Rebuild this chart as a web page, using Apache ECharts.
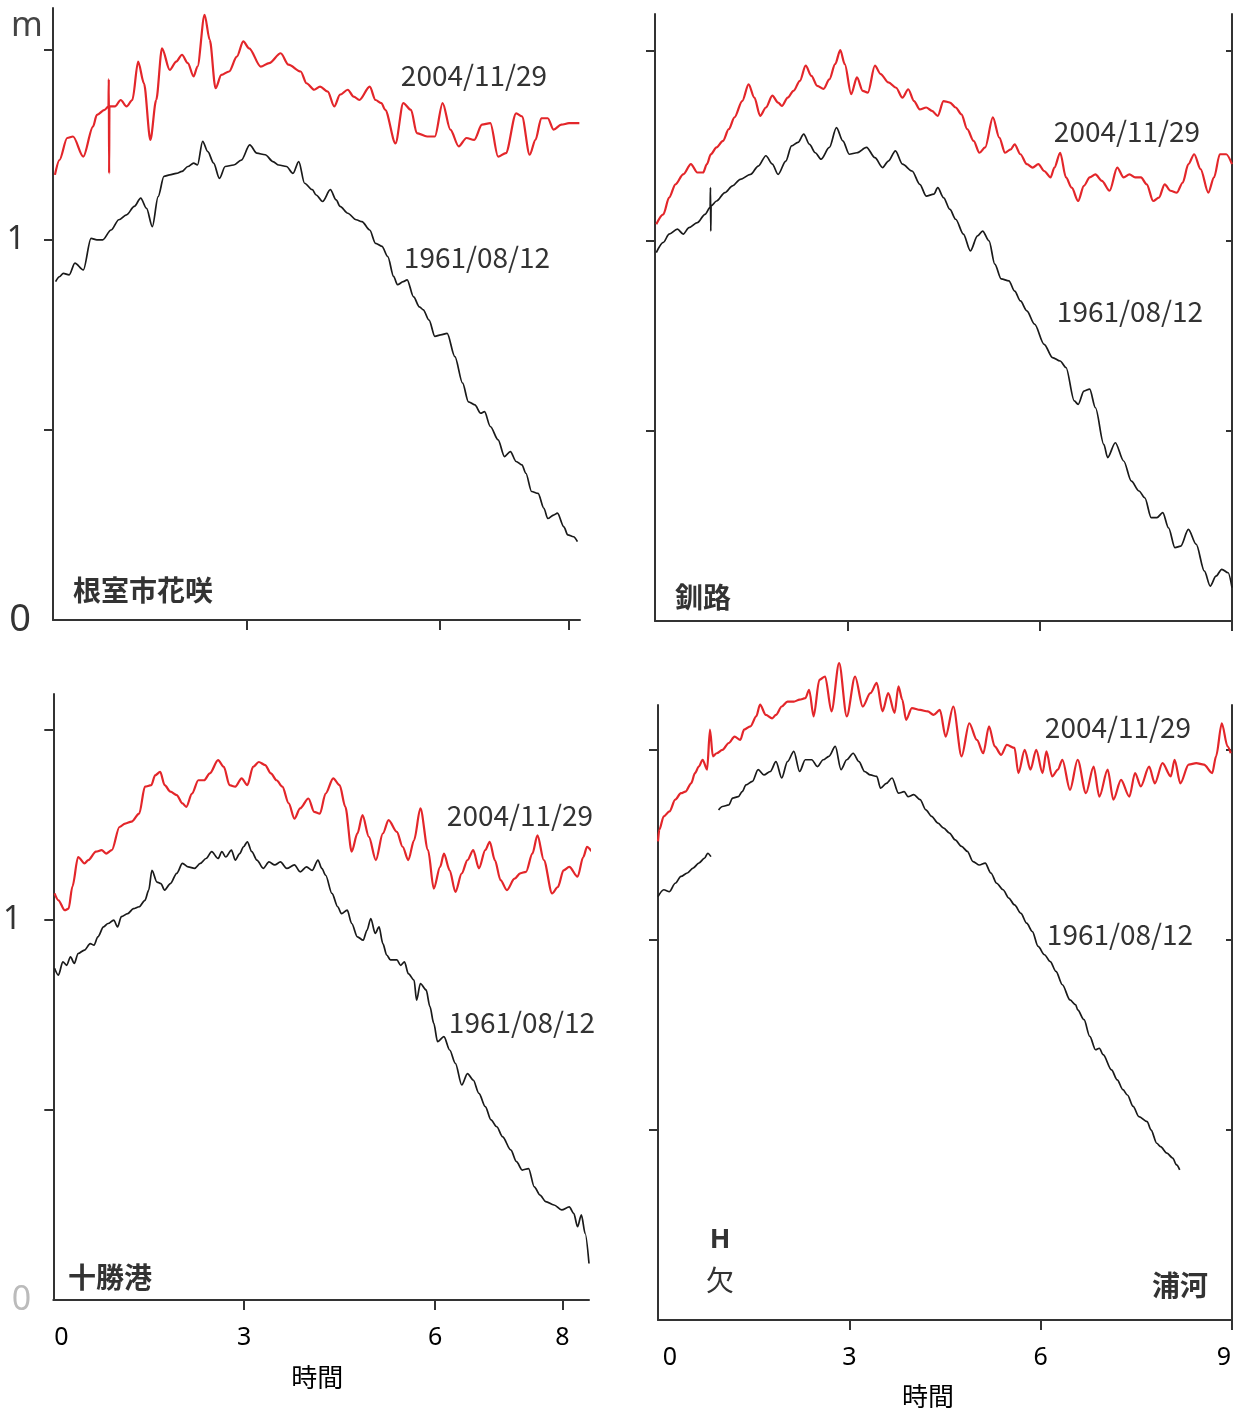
<!DOCTYPE html>
<html><head><meta charset="utf-8">
<script src="https://cdn.jsdelivr.net/npm/echarts@6/dist/echarts.min.js"></script>
<style>html,body{margin:0;padding:0;background:#fff}#c{width:1239px;height:1411px}</style>
</head><body><div id="c"></div>
<script>
// time (hours) , water level (m)
const nemuro2004 = [[0.03,1.171],[0.10,1.21],[0.22,1.268],[0.31,1.272],[0.47,1.219],[0.62,1.298],[0.68,1.329],[0.80,1.342],[0.86,1.351],[0.865,1.423],[0.87,1.175],[0.875,1.351],[0.96,1.351],[1.05,1.368],[1.14,1.351],[1.23,1.368],[1.32,1.469],[1.41,1.412],[1.51,1.263],[1.60,1.368],[1.69,1.504],[1.81,1.447],[1.91,1.469],[2.00,1.487],[2.09,1.465],[2.18,1.43],[2.24,1.456],[2.35,1.592],[2.43,1.526],[2.52,1.399],[2.61,1.434],[2.73,1.443],[2.85,1.482],[2.95,1.522],[3.04,1.504],[3.22,1.456],[3.35,1.465],[3.53,1.491],[3.65,1.461],[3.84,1.443],[3.93,1.412],[4.05,1.395],[4.14,1.403],[4.26,1.39],[4.36,1.351],[4.45,1.382],[4.57,1.395],[4.66,1.377],[4.75,1.368],[4.91,1.403],[5.00,1.368],[5.09,1.36],[5.15,1.342],[5.31,1.254],[5.43,1.36],[5.55,1.342],[5.64,1.281],[5.80,1.272],[5.92,1.272],[6.04,1.36],[6.16,1.29],[6.29,1.246],[6.41,1.268],[6.53,1.263],[6.65,1.303],[6.78,1.307],[6.90,1.219],[7.02,1.228],[7.18,1.333],[7.27,1.325],[7.39,1.224],[7.48,1.263],[7.57,1.32],[7.67,1.32],[7.76,1.29],[7.88,1.303],[8.00,1.307],[8.16,1.307]];
const nemuro1961 = [[0.04,0.890],[0.10,0.903],[0.16,0.912],[0.25,0.908],[0.34,0.939],[0.47,0.921],[0.59,1.004],[0.68,1.0],[0.77,1.0],[0.90,1.026],[1.02,1.053],[1.14,1.066],[1.26,1.088],[1.36,1.11],[1.45,1.083],[1.54,1.035],[1.63,1.114],[1.72,1.167],[1.81,1.171],[1.91,1.175],[2.00,1.18],[2.09,1.193],[2.18,1.202],[2.24,1.197],[2.32,1.259],[2.40,1.232],[2.49,1.202],[2.58,1.162],[2.67,1.193],[2.80,1.197],[2.92,1.21],[3.05,1.25],[3.16,1.228],[3.29,1.224],[3.41,1.206],[3.50,1.197],[3.62,1.193],[3.72,1.175],[3.81,1.206],[3.90,1.149],[4.02,1.132],[4.08,1.118],[4.18,1.101],[4.30,1.132],[4.39,1.105],[4.45,1.088],[4.57,1.07],[4.70,1.053],[4.79,1.048],[4.91,1.026],[5.00,0.991],[5.10,0.983],[5.19,0.956],[5.28,0.904],[5.34,0.882],[5.43,0.890],[5.49,0.895],[5.59,0.85],[5.68,0.824],[5.74,0.816],[5.83,0.789],[5.92,0.746],[6.01,0.75],[6.11,0.754],[6.23,0.693],[6.35,0.623],[6.44,0.574],[6.54,0.566],[6.63,0.544],[6.69,0.548],[6.78,0.509],[6.90,0.474],[7.00,0.43],[7.09,0.443],[7.18,0.417],[7.27,0.408],[7.33,0.386],[7.42,0.338],[7.52,0.333],[7.61,0.294],[7.67,0.267],[7.76,0.276],[7.82,0.281],[7.92,0.245],[7.98,0.224],[8.07,0.219],[8.13,0.206]];
const kushiro2004 = [[0.02,1.044],[0.13,1.07],[0.22,1.114],[0.32,1.149],[0.44,1.175],[0.56,1.202],[0.66,1.18],[0.75,1.18],[0.81,1.202],[0.87,1.228],[0.96,1.246],[1.06,1.263],[1.15,1.294],[1.24,1.325],[1.36,1.368],[1.46,1.412],[1.55,1.377],[1.64,1.329],[1.73,1.351],[1.83,1.382],[1.92,1.364],[1.98,1.355],[2.07,1.377],[2.16,1.395],[2.26,1.421],[2.35,1.461],[2.44,1.434],[2.53,1.408],[2.63,1.4],[2.72,1.425],[2.81,1.465],[2.89,1.502],[2.96,1.465],[3.06,1.386],[3.15,1.43],[3.24,1.395],[3.32,1.39],[3.43,1.461],[3.52,1.439],[3.64,1.417],[3.76,1.403],[3.86,1.377],[3.95,1.399],[4.04,1.368],[4.13,1.346],[4.23,1.351],[4.32,1.342],[4.41,1.329],[4.50,1.368],[4.60,1.364],[4.69,1.351],[4.78,1.333],[4.87,1.294],[4.97,1.263],[5.06,1.232],[5.15,1.246],[5.27,1.325],[5.37,1.272],[5.46,1.232],[5.55,1.241],[5.61,1.254],[5.70,1.228],[5.80,1.202],[5.89,1.193],[5.98,1.202],[6.07,1.184],[6.17,1.167],[6.23,1.193],[6.32,1.232],[6.41,1.167],[6.50,1.14],[6.60,1.105],[6.69,1.145],[6.78,1.167],[6.87,1.175],[6.97,1.158],[7.09,1.132],[7.21,1.193],[7.31,1.167],[7.40,1.175],[7.49,1.167],[7.58,1.167],[7.67,1.149],[7.77,1.105],[7.86,1.114],[7.95,1.149],[8.04,1.132],[8.14,1.127],[8.23,1.153],[8.32,1.202],[8.41,1.228],[8.51,1.189],[8.63,1.127],[8.72,1.167],[8.81,1.228],[8.91,1.228],[9.00,1.202]];
const kushiro1961 = [[0.02,0.969],[0.13,0.996],[0.22,1.018],[0.35,1.031],[0.44,1.018],[0.53,1.035],[0.66,1.048],[0.78,1.07],[0.86,1.088],[0.865,1.14],[0.87,1.026],[0.875,1.092],[0.96,1.105],[1.09,1.127],[1.21,1.145],[1.33,1.162],[1.49,1.175],[1.61,1.197],[1.73,1.224],[1.83,1.202],[1.92,1.175],[2.04,1.21],[2.13,1.25],[2.23,1.259],[2.32,1.281],[2.41,1.254],[2.50,1.232],[2.59,1.215],[2.72,1.246],[2.83,1.298],[2.93,1.263],[3.03,1.228],[3.15,1.232],[3.30,1.246],[3.43,1.219],[3.55,1.193],[3.64,1.21],[3.75,1.237],[3.86,1.202],[4.01,1.184],[4.13,1.149],[4.23,1.118],[4.35,1.123],[4.41,1.14],[4.50,1.114],[4.60,1.083],[4.69,1.057],[4.81,1.018],[4.92,0.974],[5.03,1.013],[5.11,1.026],[5.21,1.0],[5.30,0.939],[5.40,0.9],[5.52,0.895],[5.61,0.868],[5.70,0.842],[5.80,0.816],[5.92,0.781],[6.07,0.728],[6.20,0.693],[6.32,0.684],[6.41,0.667],[6.54,0.579],[6.60,0.57],[6.69,0.605],[6.78,0.61],[6.87,0.561],[7.00,0.465],[7.06,0.43],[7.18,0.469],[7.31,0.421],[7.43,0.368],[7.55,0.342],[7.64,0.324],[7.74,0.272],[7.83,0.272],[7.92,0.285],[8.01,0.245],[8.11,0.193],[8.20,0.197],[8.32,0.241],[8.44,0.202],[8.57,0.131],[8.66,0.092],[8.75,0.118],[8.84,0.136],[8.94,0.127],[9.00,0.088]];
const tokachi2004 = [[0.02,1.07],[0.08,1.052],[0.18,1.026],[0.24,1.03],[0.30,1.088],[0.39,1.166],[0.49,1.149],[0.55,1.158],[0.67,1.18],[0.76,1.184],[0.83,1.175],[0.92,1.184],[1.04,1.245],[1.13,1.254],[1.23,1.259],[1.35,1.28],[1.44,1.351],[1.54,1.355],[1.60,1.381],[1.68,1.39],[1.75,1.355],[1.84,1.338],[1.94,1.329],[2.03,1.307],[2.09,1.298],[2.18,1.333],[2.28,1.368],[2.37,1.368],[2.46,1.386],[2.59,1.421],[2.68,1.403],[2.77,1.355],[2.86,1.351],[2.96,1.373],[3.05,1.355],[3.14,1.403],[3.23,1.416],[3.33,1.408],[3.42,1.386],[3.51,1.368],[3.60,1.351],[3.70,1.307],[3.79,1.267],[3.88,1.294],[4.01,1.32],[4.10,1.285],[4.19,1.28],[4.28,1.333],[4.40,1.373],[4.50,1.355],[4.59,1.298],[4.69,1.18],[4.78,1.228],[4.86,1.276],[4.96,1.219],[5.07,1.158],[5.18,1.228],[5.27,1.263],[5.40,1.232],[5.49,1.193],[5.58,1.158],[5.67,1.21],[5.77,1.294],[5.89,1.184],[5.98,1.083],[6.08,1.14],[6.14,1.175],[6.23,1.131],[6.32,1.074],[6.42,1.123],[6.51,1.158],[6.60,1.184],[6.69,1.136],[6.79,1.184],[6.86,1.206],[6.94,1.158],[7.03,1.105],[7.13,1.079],[7.25,1.109],[7.34,1.123],[7.43,1.127],[7.53,1.175],[7.61,1.223],[7.71,1.158],[7.84,1.07],[7.93,1.087],[8.02,1.131],[8.11,1.14],[8.24,1.114],[8.33,1.166],[8.39,1.193],[8.48,1.18],[8.55,1.166],[8.64,1.166]];
const tokachi1961 = [[0.02,0.873],[0.08,0.855],[0.15,0.89],[0.21,0.881],[0.27,0.903],[0.33,0.886],[0.39,0.912],[0.49,0.921],[0.58,0.938],[0.64,0.934],[0.70,0.956],[0.79,0.982],[0.86,0.991],[0.95,1.0],[1.01,0.982],[1.07,1.009],[1.17,1.017],[1.26,1.03],[1.35,1.035],[1.44,1.052],[1.50,1.079],[1.55,1.131],[1.63,1.1],[1.69,1.096],[1.75,1.079],[1.84,1.096],[1.94,1.123],[2.03,1.149],[2.12,1.14],[2.22,1.136],[2.31,1.149],[2.40,1.162],[2.49,1.18],[2.59,1.162],[2.65,1.18],[2.71,1.166],[2.80,1.184],[2.86,1.158],[2.93,1.175],[2.99,1.193],[3.05,1.206],[3.12,1.18],[3.20,1.158],[3.30,1.136],[3.39,1.153],[3.48,1.145],[3.57,1.153],[3.67,1.136],[3.79,1.145],[3.88,1.127],[3.98,1.14],[4.07,1.131],[4.16,1.158],[4.22,1.136],[4.28,1.118],[4.38,1.07],[4.47,1.035],[4.53,1.017],[4.62,1.026],[4.69,0.991],[4.78,0.956],[4.87,0.947],[4.93,0.973],[4.99,1.004],[5.06,0.965],[5.12,0.982],[5.18,0.938],[5.24,0.908],[5.30,0.895],[5.40,0.895],[5.46,0.881],[5.52,0.89],[5.58,0.859],[5.67,0.842],[5.71,0.789],[5.77,0.833],[5.86,0.816],[5.92,0.772],[5.98,0.728],[6.04,0.68],[6.14,0.693],[6.23,0.658],[6.32,0.623],[6.42,0.566],[6.51,0.596],[6.60,0.579],[6.69,0.544],[6.79,0.509],[6.88,0.474],[6.97,0.456],[7.06,0.43],[7.19,0.395],[7.28,0.364],[7.37,0.342],[7.47,0.346],[7.56,0.298],[7.65,0.276],[7.74,0.259],[7.87,0.25],[7.99,0.237],[8.11,0.245],[8.18,0.228],[8.24,0.193],[8.30,0.224],[8.36,0.175],[8.42,0.096]];
const urakawa2004 = [[0.00,1.259],[0.02,1.29],[0.09,1.325],[0.18,1.338],[0.27,1.369],[0.36,1.386],[0.43,1.39],[0.52,1.412],[0.58,1.439],[0.64,1.456],[0.70,1.474],[0.77,1.448],[0.815,1.553],[0.86,1.483],[0.92,1.491],[1.01,1.5],[1.11,1.518],[1.20,1.535],[1.29,1.526],[1.35,1.553],[1.45,1.562],[1.54,1.588],[1.60,1.619],[1.69,1.592],[1.79,1.583],[1.85,1.592],[1.94,1.614],[2.03,1.627],[2.13,1.627],[2.22,1.632],[2.31,1.636],[2.37,1.658],[2.44,1.588],[2.53,1.684],[2.62,1.693],[2.72,1.601],[2.84,1.728],[2.96,1.588],[3.09,1.693],[3.21,1.614],[3.33,1.649],[3.43,1.676],[3.52,1.601],[3.61,1.649],[3.71,1.597],[3.77,1.667],[3.83,1.632],[3.89,1.579],[3.98,1.61],[4.11,1.605],[4.23,1.601],[4.32,1.592],[4.42,1.605],[4.51,1.535],[4.63,1.614],[4.76,1.483],[4.88,1.57],[5.00,1.526],[5.10,1.491],[5.19,1.562],[5.28,1.509],[5.38,1.487],[5.47,1.513],[5.59,1.505],[5.65,1.439],[5.75,1.5],[5.84,1.448],[5.93,1.5],[6.03,1.439],[6.09,1.496],[6.18,1.43],[6.27,1.448],[6.34,1.474],[6.46,1.395],[6.58,1.474],[6.71,1.386],[6.83,1.456],[6.92,1.377],[7.05,1.448],[7.14,1.369],[7.26,1.421],[7.39,1.377],[7.48,1.439],[7.57,1.404],[7.70,1.456],[7.79,1.412],[7.91,1.465],[8.04,1.43],[8.10,1.474],[8.19,1.412],[8.32,1.461],[8.44,1.465],[8.56,1.461],[8.69,1.439],[8.75,1.483],[8.84,1.57],[8.93,1.509],[8.98,1.491]];
const urakawa1961a = [[0.00,1.114],[0.09,1.132],[0.18,1.127],[0.27,1.149],[0.36,1.167],[0.46,1.176],[0.55,1.189],[0.64,1.202],[0.73,1.215],[0.78,1.228],[0.83,1.219]];
const urakawa1961b = [[0.95,1.342],[1.01,1.351],[1.11,1.355],[1.17,1.373],[1.26,1.377],[1.32,1.39],[1.38,1.408],[1.48,1.417],[1.57,1.448],[1.66,1.434],[1.76,1.443],[1.85,1.469],[1.94,1.426],[2.03,1.469],[2.13,1.496],[2.22,1.443],[2.31,1.474],[2.41,1.474],[2.50,1.456],[2.59,1.474],[2.68,1.483],[2.78,1.509],[2.87,1.448],[2.96,1.474],[3.06,1.491],[3.15,1.469],[3.24,1.443],[3.33,1.434],[3.43,1.43],[3.49,1.399],[3.58,1.412],[3.67,1.426],[3.77,1.386],[3.86,1.39],[3.92,1.377],[4.01,1.382],[4.11,1.369],[4.20,1.342],[4.29,1.325],[4.39,1.307],[4.48,1.294],[4.57,1.281],[4.66,1.263],[4.76,1.246],[4.85,1.233],[4.94,1.206],[5.04,1.197],[5.13,1.202],[5.22,1.176],[5.31,1.149],[5.41,1.132],[5.50,1.11],[5.59,1.092],[5.69,1.07],[5.78,1.044],[5.87,1.022],[5.96,0.983],[6.06,0.961],[6.15,0.943],[6.24,0.917],[6.34,0.882],[6.46,0.842],[6.55,0.829],[6.58,0.816],[6.68,0.79],[6.77,0.746],[6.86,0.711],[6.92,0.715],[6.98,0.698],[7.11,0.658],[7.20,0.632],[7.29,0.606],[7.36,0.592],[7.45,0.562],[7.54,0.535],[7.67,0.522],[7.73,0.5],[7.82,0.465],[7.88,0.456],[7.98,0.439],[8.07,0.426],[8.13,0.408],[8.18,0.395]];

const yTicks = [0.5, 1, 1.5];
const xTicksLeft = [3, 6, 8];
const xTicksRight = [3, 6, 9];
const xLabelsLeft = [0, 3, 6, 8];
const xLabelsRight = [0, 3, 6, 9];
const yLabels = [0, 1];

const RED = '#e3262a', BLACK = '#1a1a1a', AX = '#333';
const LBL = 'Noto Sans CJK JP';

const grids = [
  {left: 53, top: 8, width: 527, height: 612},
  {left: 655, top: 14, width: 577, height: 607},
  {left: 50, top: 694, width: 539, height: 606},
  {left: 658, top: 705, width: 574, height: 615}
];
const xMax = [8.17, 9, 8.42, 9];
const yMax = [1.61, 1.597, 1.595, 1.618];

function xAxisFor(i) {
  const showLabels = i >= 2;
  return {
    type: 'value', gridIndex: i, min: 0, max: xMax[i],
    axisLine: {show: true, lineStyle: {color: AX, width: 2}},
    axisTick: {show: true, length: 10, lineStyle: {color: AX, width: 2},
      customValues: (i === 1 || i === 3) ? xTicksRight : xTicksLeft},
    axisLabel: {show: showLabels, margin: 25, color: '#000', fontSize: 25, fontFamily: 'Noto Sans',
      customValues: i === 3 ? xLabelsRight : xLabelsLeft,
      formatter: v => v === 0 ? (i === 3 ? '{z2|0}' : '{z1|0}') : (v === 9 ? '{n|9}' : String(v)),
      rich: {z1: {fontSize: 25, fontFamily: 'Noto Sans', color: '#000', padding: [0, 0, 0, 16]},
             z2: {fontSize: 25, fontFamily: 'Noto Sans', color: '#000', padding: [0, 0, 0, 24]},
             n: {fontSize: 25, fontFamily: 'Noto Sans', color: '#000', padding: [0, 16, 8, 0]}}},
    splitLine: {show: false},
    name: showLabels ? '時間' : '', nameLocation: 'middle',
    nameGap: i === 2 ? 64 : 63,
    nameTextStyle: {color: '#000', fontSize: 26, fontFamily: LBL,
      padding: i === 3 ? [0, 34, 0, 0] : [0, 8, 0, 0]}
  };
}
function yAxisFor(i) {
  const labels = (i === 0 || i === 2);
  return {
    type: 'value', gridIndex: i, min: 0, max: yMax[i],
    axisLine: {show: true, lineStyle: {color: AX, width: 2}},
    axisTick: {show: true, length: 9, lineStyle: {color: AX, width: 2}, customValues: yTicks},
    axisLabel: {show: labels, customValues: yLabels, margin: 22, fontFamily: 'Noto Sans',
      formatter: v => v === 1 ? '{one|1}' : (i === 2 ? '{faint|0}' : '{zero|0}'),
      rich: {one: {fontSize: 32, color: '#333', padding: [0, i === 2 ? 10 : 6, 0, 0]},
             zero: {fontSize: 38, color: '#333'},
             faint: {fontSize: 34, color: '#bbb'}}},
    splitLine: {show: false}
  };
}
function rightAxisFor(i) {
  return {
    type: 'value', gridIndex: i, min: 0, max: yMax[i], position: 'right',
    axisLine: {show: true, lineStyle: {color: AX, width: 2}},
    axisTick: {show: true, inside: true, length: 6, lineStyle: {color: AX, width: 2}, customValues: yTicks},
    axisLabel: {show: false}, splitLine: {show: false}
  };
}

function line(data, xi, yi, color, w) {
  return {type: 'line', data: data, xAxisIndex: xi, yAxisIndex: yi, showSymbol: false,
    smooth: 0.3, smoothMonotone: 'x',
    clip: false, animation: false, lineStyle: {color: color, width: w}, silent: true};
}

function txt(s, x, y, size, opts) {
  opts = opts || {};
  return {type: 'text', x: x, y: y, silent: true,
    style: {text: s, fill: opts.color || '#333', textAlign: 'center', textVerticalAlign: 'middle',
      font: (opts.weight || 'normal') + ' ' + size + 'px "' + (opts.family || LBL) + '"'}};
}

const chart = echarts.init(document.getElementById('c'), null, {renderer: 'canvas'});
chart.setOption({
  backgroundColor: '#fff',
  animation: false,
  grid: grids,
  xAxis: [0, 1, 2, 3].map(xAxisFor),
  yAxis: [0, 1, 2, 3].map(yAxisFor).concat([rightAxisFor(1), rightAxisFor(3)]),
  series: [
    line(nemuro1961, 0, 0, BLACK, 1.7), line(nemuro2004, 0, 0, RED, 2.2),
    line(kushiro1961, 1, 1, BLACK, 1.7), line(kushiro2004, 1, 1, RED, 2.2),
    line(tokachi1961, 2, 2, BLACK, 1.7), line(tokachi2004, 2, 2, RED, 2.2),
    line(urakawa1961a, 3, 3, BLACK, 1.7), line(urakawa1961b, 3, 3, BLACK, 1.7), line(urakawa2004, 3, 3, RED, 2.2)
  ],
  graphic: [
    txt('m', 27, 26, 34, {family: 'Noto Sans', color: '#444'}),
    txt('2004/11/29', 474, 75, 28), txt('1961/08/12', 477, 257, 28),
    txt('根室市花咲', 143, 590, 28, {weight: 'bold'}),
    txt('2004/11/29', 1127, 131, 28), txt('1961/08/12', 1130, 311, 28),
    txt('釧路', 703, 597, 28, {weight: 'bold'}),
    txt('2004/11/29', 520, 815, 28), txt('1961/08/12', 522, 1022, 28),
    txt('十勝港', 110, 1277, 28, {weight: 'bold'}),
    txt('2004/11/29', 1118, 727, 28), txt('1961/08/12', 1120, 934, 28),
    txt('浦河', 1180, 1285, 28, {weight: 'bold'}),
    txt('H', 720, 1240, 27, {weight: 'bold', family: 'Noto Sans'}),
    txt('欠', 720, 1280, 28)
  ]
});
</script></body></html>
